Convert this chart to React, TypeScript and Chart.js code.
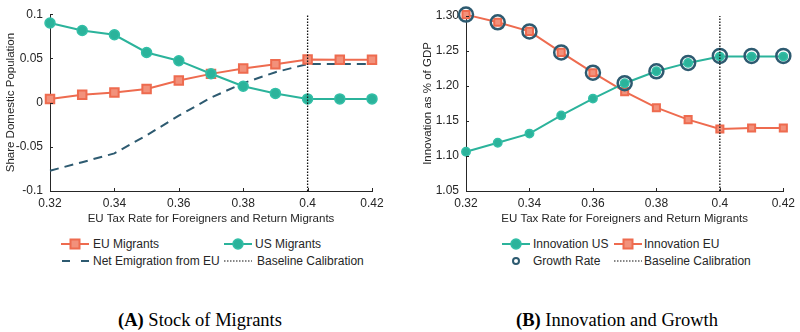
import React, { useEffect, useRef } from "react";
import { Chart, registerables } from "chart.js";

Chart.register(...registerables);

// ---------- data ----------
const taxRates = [0.32, 0.33, 0.34, 0.35, 0.36, 0.37, 0.38, 0.39, 0.4, 0.41, 0.42];
const xTickValues = [0.32, 0.34, 0.36, 0.38, 0.4, 0.42];
const baselineRate = 0.4;

// Panel A: stock of migrants (share of domestic population)
const euMigrants = [0.004, 0.009, 0.0115, 0.0155, 0.025, 0.0325, 0.0385, 0.0435, 0.0488, 0.0485, 0.0485];
const usMigrants = [0.09, 0.0815, 0.0767, 0.0567, 0.0474, 0.0326, 0.0185, 0.0104, 0.0042, 0.0042, 0.0042];
const netEmigration = [-0.077, -0.0674, -0.0574, -0.037, -0.0148, 0.0056, 0.022, 0.0344, 0.0437, 0.0437, 0.0437];
const leftYTicks = [-0.1, -0.05, 0, 0.05, 0.1];

// Panel B: innovation as % of GDP
const innovationUS = [1.106, 1.119, 1.132, 1.158, 1.182, 1.204, 1.221, 1.233, 1.242, 1.242, 1.242];
const innovationEU = [1.302, 1.291, 1.278, 1.248, 1.219, 1.192, 1.169, 1.152, 1.1385, 1.14, 1.14];
const growthRate = [1.302, 1.291, 1.278, 1.248, 1.219, 1.204, 1.221, 1.233, 1.243, 1.243, 1.243];
const rightYTicks = [1.05, 1.1, 1.15, 1.2, 1.25, 1.3];

// ---------- style ----------
const FONT = "'Liberation Sans', Arial, Helvetica, sans-serif";
const SERIF = "'Liberation Serif', 'DejaVu Serif', serif";
const INK = "#262626";
const ORANGE = "#ee6b4f";
const ORANGE_FILL = "#f2917b";
const TEAL = "#2bb39b";
const TEAL_EDGE = "#33bfa7";
const NAVY = "#2d5a70";

Chart.defaults.font.family = FONT;
Chart.defaults.color = INK;

const pts = (ys: number[]) => taxRates.map((x, i) => ({ x, y: ys[i] }));

const inwardTicks = {
  id: "inwardTicks",
  afterDraw(chart: any) {
    const { ctx, chartArea } = chart;
    const xs = chart.scales.x;
    const ys = chart.scales.y;
    ctx.save();
    ctx.strokeStyle = INK;
    ctx.lineWidth = 1;
    ctx.beginPath();
    xs.ticks.forEach((t: any) => {
      const px = Math.round(xs.getPixelForValue(t.value)) + 0.5;
      ctx.moveTo(px, chartArea.bottom);
      ctx.lineTo(px, chartArea.bottom - 3);
    });
    ys.ticks.forEach((t: any) => {
      const py = Math.round(ys.getPixelForValue(t.value)) + 0.5;
      ctx.moveTo(chartArea.left, py);
      ctx.lineTo(chartArea.left + 3, py);
    });
    ctx.stroke();
    ctx.restore();
  },
};

function makeOptions(cfg: {
  yMin: number;
  yMax: number;
  yTicks: number[];
  yFmt: (v: number) => string;
  yTitle: string;
  yWidth: number;
  yTitlePad: number;
  padRight: number;
  padTop: number;
}) {
  return {
    responsive: false,
    animation: false as const,
    events: [] as any[],
    layout: { padding: { left: 0, right: cfg.padRight, top: cfg.padTop, bottom: 0 } },
    plugins: { legend: { display: false }, tooltip: { enabled: false } },
    elements: { line: { tension: 0 } },
    scales: {
      x: {
        type: "linear" as const,
        min: taxRates[0],
        max: taxRates[taxRates.length - 1],
        afterBuildTicks: (s: any) => {
          s.ticks = xTickValues.map((v) => ({ value: v }));
        },
        afterFit: (s: any) => {
          s.height = 41;
        },
        ticks: {
          autoSkip: false,
          maxRotation: 0,
          padding: 5,
          color: INK,
          font: { size: 12 },
          callback: (v: any) => String(Number(Number(v).toFixed(2))),
        },
        grid: { display: false, drawTicks: false },
        border: { display: true, color: INK, width: 1 },
        title: {
          display: true,
          text: "EU Tax Rate for Foreigners and Return Migrants",
          color: INK,
          font: { size: 11.5 },
          padding: { top: 0, bottom: 6 },
        },
      },
      y: {
        type: "linear" as const,
        min: cfg.yMin,
        max: cfg.yMax,
        afterBuildTicks: (s: any) => {
          s.ticks = cfg.yTicks.map((v) => ({ value: v }));
        },
        afterFit: (s: any) => {
          s.width = cfg.yWidth;
        },
        ticks: {
          padding: 7,
          color: INK,
          font: { size: 12 },
          callback: (v: any) => cfg.yFmt(Number(v)),
        },
        grid: { display: false, drawTicks: false },
        border: { display: true, color: INK, width: 1 },
        title: {
          display: true,
          text: cfg.yTitle,
          color: INK,
          font: { size: 11.5 },
          padding: { top: cfg.yTitlePad, bottom: 0 },
        },
      },
    },
  };
}

function baselineDataset(yMin: number, yMax: number) {
  return {
    label: "Baseline Calibration",
    data: [
      { x: baselineRate, y: yMin },
      { x: baselineRate, y: yMax },
    ],
    borderColor: "#111111",
    borderWidth: 1.3,
    borderDash: [1.5, 1.5],
    pointRadius: 0,
    clip: false as const,
    order: 0,
  };
}

function ChartCanvas({ config, left }: { config: any; left: number }) {
  const ref = useRef<HTMLCanvasElement | null>(null);
  useEffect(() => {
    if (!ref.current) return;
    const chart = new Chart(ref.current, config);
    return () => chart.destroy();
  }, []);
  return (
    <canvas
      ref={ref}
      width={400}
      height={232}
      style={{ position: "absolute", left, top: 0, width: 400, height: 232 }}
    />
  );
}

const leftConfig = {
  type: "line",
  data: {
    datasets: [
      baselineDataset(leftYTicks[0], leftYTicks[leftYTicks.length - 1]),
      {
        label: "US Migrants",
        data: pts(usMigrants),
        borderColor: TEAL,
        borderWidth: 2,
        pointRadius: 5,
        pointBorderWidth: 1.5,
        pointBackgroundColor: TEAL,
        pointBorderColor: TEAL_EDGE,
        clip: false,
        order: 1,
      },
      {
        label: "EU Migrants",
        data: pts(euMigrants),
        borderColor: ORANGE,
        borderWidth: 2,
        pointStyle: "rect",
        pointRadius: 6,
        pointBorderWidth: 2,
        pointBackgroundColor: ORANGE_FILL,
        pointBorderColor: ORANGE,
        clip: false,
        order: 2,
      },
      {
        label: "Net Emigration from EU",
        data: pts(netEmigration),
        borderColor: NAVY,
        borderWidth: 2,
        borderDash: [9, 6],
        pointRadius: 0,
        clip: false,
        order: 3,
      },
    ],
  },
  options: makeOptions({
    yMin: leftYTicks[0],
    yMax: leftYTicks[leftYTicks.length - 1],
    yTicks: leftYTicks,
    yFmt: (v) => String(Number(v.toFixed(2))),
    yTitle: "Share Domestic Population",
    yWidth: 50,
    yTitlePad: 3.5,
    padRight: 28,
    padTop: 11,
  }),
  plugins: [inwardTicks],
};

const rightConfig = {
  type: "line",
  data: {
    datasets: [
      baselineDataset(rightYTicks[0], rightYTicks[rightYTicks.length - 1]),
      {
        label: "Growth Rate",
        data: pts(growthRate),
        showLine: false,
        pointRadius: 7,
        pointBorderWidth: 2.5,
        pointBackgroundColor: "rgba(0,0,0,0)",
        pointBorderColor: NAVY,
        clip: false,
        order: 1,
      },
      {
        label: "Innovation US",
        data: pts(innovationUS),
        borderColor: TEAL,
        borderWidth: 2,
        pointRadius: 4.2,
        pointBorderWidth: 1.5,
        pointBackgroundColor: TEAL,
        pointBorderColor: TEAL_EDGE,
        clip: false,
        order: 2,
      },
      {
        label: "Innovation EU",
        data: pts(innovationEU),
        borderColor: ORANGE,
        borderWidth: 2,
        pointStyle: "rect",
        pointRadius: 5,
        pointBorderWidth: 2,
        pointBackgroundColor: ORANGE_FILL,
        pointBorderColor: ORANGE,
        clip: false,
        order: 3,
      },
    ],
  },
  options: makeOptions({
    yMin: rightYTicks[0],
    yMax: rightYTicks[rightYTicks.length - 1],
    yTicks: rightYTicks,
    yFmt: (v) => v.toFixed(2),
    yTitle: "Innovation as % of GDP",
    yWidth: 66,
    yTitlePad: 21,
    padRight: 13,
    padTop: 16,
  }),
  plugins: [inwardTicks],
};

type MarkerKind = "square" | "circle" | "dash" | "dot" | "ring";

function Marker({ kind, left, y }: { kind: MarkerKind; left: number; y: number }) {
  const w = 28;
  const h = 14;
  const cy = h / 2;
  let inner: React.ReactNode = null;
  if (kind === "square") {
    inner = (
      <>
        <line x1={0} y1={cy} x2={w} y2={cy} stroke={ORANGE} strokeWidth={2} />
        <rect x={w / 2 - 4.5} y={cy - 4.5} width={9} height={9} fill={ORANGE_FILL} stroke={ORANGE} strokeWidth={2} />
      </>
    );
  } else if (kind === "circle") {
    inner = (
      <>
        <line x1={0} y1={cy} x2={w} y2={cy} stroke={TEAL} strokeWidth={2} />
        <circle cx={w / 2} cy={cy} r={5} fill={TEAL} stroke={TEAL_EDGE} strokeWidth={1.5} />
      </>
    );
  } else if (kind === "dash") {
    inner = <line x1={1} y1={cy} x2={w} y2={cy} stroke={NAVY} strokeWidth={2} strokeDasharray="8 11" />;
  } else if (kind === "dot") {
    inner = <line x1={0} y1={cy} x2={w} y2={cy} stroke="#111" strokeWidth={1.2} strokeDasharray="1.5 1.5" />;
  } else {
    inner = <circle cx={w / 2} cy={cy} r={3} fill="none" stroke={NAVY} strokeWidth={2} />;
  }
  return (
    <svg width={w} height={h} style={{ position: "absolute", left, top: y - h / 2 }}>
      {inner}
    </svg>
  );
}

function LegendText({ text, left, y }: { text: string; left: number; y: number }) {
  return (
    <div
      style={{
        position: "absolute",
        left,
        top: y - 8,
        height: 16,
        lineHeight: "16px",
        fontFamily: FONT,
        fontSize: 12,
        color: INK,
        whiteSpace: "nowrap",
      }}
    >
      {text}
    </div>
  );
}

function Caption({ letter, text, center }: { letter: string; text: string; center: number }) {
  return (
    <div
      style={{
        position: "absolute",
        left: center - 150,
        width: 300,
        top: 309,
        lineHeight: "22px",
        textAlign: "center",
        fontFamily: SERIF,
        fontSize: 18.5,
        color: "#000",
        whiteSpace: "nowrap",
      }}
    >
      <b>({letter})</b> {text}
    </div>
  );
}

export default function App() {
  const row1 = 244;
  const row2 = 261;
  return (
    <div
      style={{
        position: "absolute",
        left: 0,
        top: 0,
        width: 800,
        height: 332,
        background: "#fff",
        overflow: "hidden",
      }}
    >
      <ChartCanvas config={leftConfig} left={0} />
      <ChartCanvas config={rightConfig} left={400} />

      {/* Panel A legend */}
      <Marker kind="square" left={61} y={row1} />
      <LegendText text="EU Migrants" left={93} y={row1} />
      <Marker kind="circle" left={224} y={row1} />
      <LegendText text="US Migrants" left={255} y={row1} />
      <Marker kind="dash" left={61} y={row2} />
      <LegendText text="Net Emigration from EU" left={93} y={row2} />
      <Marker kind="dot" left={224} y={row2} />
      <LegendText text="Baseline Calibration" left={257} y={row2} />

      {/* Panel B legend */}
      <Marker kind="circle" left={502} y={row1} />
      <LegendText text="Innovation US" left={533} y={row1} />
      <Marker kind="square" left={614} y={row1} />
      <LegendText text="Innovation EU" left={644} y={row1} />
      <Marker kind="ring" left={502} y={row2} />
      <LegendText text="Growth Rate" left={533} y={row2} />
      <Marker kind="dot" left={614} y={row2} />
      <LegendText text="Baseline Calibration" left={644} y={row2} />

      <Caption letter="A" text="Stock of Migrants" center={200} />
      <Caption letter="B" text="Innovation and Growth" center={617} />
    </div>
  );
}
